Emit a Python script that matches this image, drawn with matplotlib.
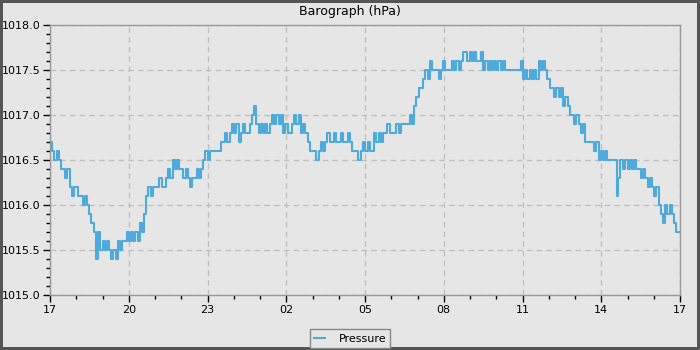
# barograph, 24 uur vanaf 17:00

import numpy as np
import matplotlib.pyplot as plt

# minuten sinds 17:00
minutes = [0, 5, 9, 16, 21, 25, 30, 34, 39, 46, 50, 55,
           59, 64, 69, 75, 80, 85, 89, 94, 101, 105, 110, 114,
           120, 125, 130, 135, 139, 145, 150, 155, 160, 165, 170, 175,
           180, 185, 190, 194, 200, 205, 210, 215, 219, 225, 230, 235,
           240, 245, 249, 255, 260, 265, 270, 275, 280, 285, 290, 295,
           299, 305, 310, 315, 320, 325, 329, 335, 340, 345, 350, 354,
           360, 365, 370, 375, 379, 385, 390, 395, 400, 405, 411, 416,
           421, 425, 431, 436, 441, 446, 450, 456, 462, 466, 471, 477,
           482, 487, 491, 496, 502, 507, 512, 517, 523, 528, 533, 537,
           543, 548, 553, 558, 562, 568, 573, 578, 583, 589, 594, 599,
           603, 608, 614, 619, 624, 629, 633, 639, 645, 649, 654, 660,
           665, 670, 674, 680, 685, 690, 695, 699, 705, 710, 715, 720,
           726, 731, 736, 741, 745, 751, 756, 761, 766, 771, 776, 782,
           786, 791, 797, 802, 807, 811, 816, 822, 827, 832, 837, 843,
           848, 853, 857, 863, 868, 873, 878, 882, 888, 893, 898, 903,
           907, 914, 919, 923, 928, 934, 939, 944, 949, 954, 959, 965,
           969, 974, 980, 985, 990, 994, 1000, 1005, 1010, 1015, 1019, 1025,
           1030, 1035, 1040, 1046, 1051, 1056, 1061, 1065, 1071, 1076, 1081, 1086,
           1091, 1096, 1102, 1106, 1111, 1117, 1122, 1127, 1131, 1137, 1142, 1147,
           1152, 1157, 1163, 1168, 1173, 1177, 1183, 1188, 1193, 1198, 1202, 1208,
           1213, 1218, 1223, 1229, 1234, 1239, 1243, 1248, 1254, 1259, 1264, 1269,
           1274, 1279, 1285, 1290, 1295, 1298, 1302, 1310, 1314, 1320, 1325, 1330,
           1335, 1339, 1345, 1350, 1355, 1360, 1366, 1371, 1376, 1381, 1385, 1391,
           1396, 1401, 1406, 1411, 1416, 1422, 1426, 1431, 1437, 1440]

pressure = [1016.7, 1016.6, 1016.5, 1016.6, 1016.5, 1016.4, 1016.4, 1016.3, 1016.4, 1016.2, 1016.1, 1016.2,
            1016.2, 1016.1, 1016.1, 1016.0, 1016.1, 1016.0, 1015.9, 1015.8, 1015.7, 1015.4, 1015.7, 1015.5,
            1015.6, 1015.5, 1015.6, 1015.5, 1015.4, 1015.5, 1015.4, 1015.6, 1015.5, 1015.6, 1015.6, 1015.7,
            1015.6, 1015.7, 1015.6, 1015.7, 1015.6, 1015.8, 1015.7, 1015.9, 1016.1, 1016.2, 1016.1, 1016.2,
            1016.2, 1016.2, 1016.3, 1016.2, 1016.2, 1016.3, 1016.4, 1016.3, 1016.5, 1016.4, 1016.5, 1016.4,
            1016.4, 1016.3, 1016.4, 1016.3, 1016.2, 1016.3, 1016.3, 1016.4, 1016.3, 1016.4, 1016.5, 1016.6,
            1016.5, 1016.6, 1016.6, 1016.6, 1016.6, 1016.6, 1016.7, 1016.7, 1016.8, 1016.7, 1016.8, 1016.9,
            1016.8, 1016.9, 1016.7, 1016.8, 1016.9, 1016.8, 1016.8, 1016.9, 1017.0, 1017.1, 1016.9, 1016.8,
            1016.9, 1016.8, 1016.9, 1016.8, 1016.9, 1017.0, 1016.9, 1017.0, 1016.9, 1017.0, 1016.8, 1016.9,
            1016.8, 1016.8, 1016.9, 1017.0, 1016.9, 1017.0, 1016.8, 1016.9, 1016.8, 1016.7, 1016.6, 1016.6,
            1016.6, 1016.5, 1016.6, 1016.7, 1016.6, 1016.7, 1016.8, 1016.7, 1016.7, 1016.8, 1016.7, 1016.7,
            1016.8, 1016.7, 1016.7, 1016.8, 1016.7, 1016.6, 1016.6, 1016.6, 1016.5, 1016.6, 1016.7, 1016.6,
            1016.7, 1016.6, 1016.6, 1016.8, 1016.7, 1016.8, 1016.7, 1016.8, 1016.8, 1016.9, 1016.8, 1016.8,
            1016.8, 1016.9, 1016.8, 1016.9, 1016.9, 1016.9, 1016.9, 1017.0, 1016.9, 1017.1, 1017.2, 1017.3,
            1017.3, 1017.4, 1017.5, 1017.4, 1017.6, 1017.5, 1017.5, 1017.5, 1017.4, 1017.5, 1017.6, 1017.5,
            1017.5, 1017.5, 1017.6, 1017.5, 1017.6, 1017.5, 1017.6, 1017.7, 1017.7, 1017.6, 1017.7, 1017.6,
            1017.7, 1017.6, 1017.6, 1017.7, 1017.5, 1017.6, 1017.5, 1017.6, 1017.5, 1017.6, 1017.5, 1017.6,
            1017.5, 1017.6, 1017.5, 1017.5, 1017.5, 1017.5, 1017.5, 1017.5, 1017.5, 1017.6, 1017.4, 1017.5,
            1017.4, 1017.5, 1017.4, 1017.5, 1017.4, 1017.6, 1017.5, 1017.6, 1017.5, 1017.4, 1017.3, 1017.3,
            1017.2, 1017.3, 1017.2, 1017.3, 1017.1, 1017.2, 1017.1, 1017.0, 1017.0, 1016.9, 1017.0, 1016.9,
            1016.8, 1016.9, 1016.7, 1016.7, 1016.7, 1016.7, 1016.6, 1016.7, 1016.5, 1016.6, 1016.5, 1016.6,
            1016.5, 1016.5, 1016.5, 1016.5, 1016.1, 1016.3, 1016.5, 1016.4, 1016.5, 1016.4, 1016.5, 1016.4,
            1016.5, 1016.4, 1016.4, 1016.3, 1016.4, 1016.3, 1016.2, 1016.3, 1016.2, 1016.1, 1016.2, 1016.0,
            1015.9, 1015.8, 1016.0, 1015.9, 1016.0, 1015.9, 1015.8, 1015.7, 1015.7, 1015.7]

tick_hours = [0, 3, 6, 9, 12, 15, 18, 21, 24]
tick_labels = ['17', '20', '23', '02', '05', '08', '11', '14', '17']

hours = np.array(minutes) / 60
pressure_array = np.array(pressure)

bg = '#e6e6e6'
fig = plt.figure(figsize=(7, 3.5), dpi=100, facecolor=bg,
                 edgecolor='#555555', linewidth=3)
ax = fig.add_axes([50 / 700, 55 / 350, 630 / 700, 270 / 350])
ax.set_facecolor(bg)

ax.step(hours, pressure_array, where='post', color='#4ea9dc', linewidth=1.5,
        label='Pressure')

ax.set_xlim(0, 24)
ax.set_ylim(1015.0, 1018.0)
ax.set_xticks(tick_hours)
ax.set_xticklabels(tick_labels)
ax.set_xticks(np.arange(0, 25, 1), minor=True)
ax.set_yticks(np.arange(1015.0, 1018.01, 0.5))
ax.set_yticklabels(['%.1f' % v for v in np.arange(1015.0, 1018.01, 0.5)])
ax.set_yticks(np.arange(1015.0, 1018.01, 0.1), minor=True)
ax.tick_params(which='major', length=5, width=1, labelsize=8, colors='black', pad=2)
ax.tick_params(which='minor', length=3, width=1, colors='black')

for s in ax.spines.values():
    s.set_color('#999999')
    s.set_linewidth(1)

ax.grid(True, which='major', linestyle=(0, (4, 3)), color='#c0c0c0', linewidth=1)

fig.text(0.5, 1 - 12 / 350, 'Barograph (hPa)', ha='center', va='center', fontsize=9)

fig.legend(loc='lower center', bbox_to_anchor=(0.5, -0.01), ncol=1, fontsize=8,
           frameon=True, fancybox=False, facecolor=bg, edgecolor='#888888',
           framealpha=1, handlelength=1.0, handletextpad=1.2, borderpad=0.4)

plt.savefig('out.png', dpi=100, facecolor=bg, edgecolor='#555555')
